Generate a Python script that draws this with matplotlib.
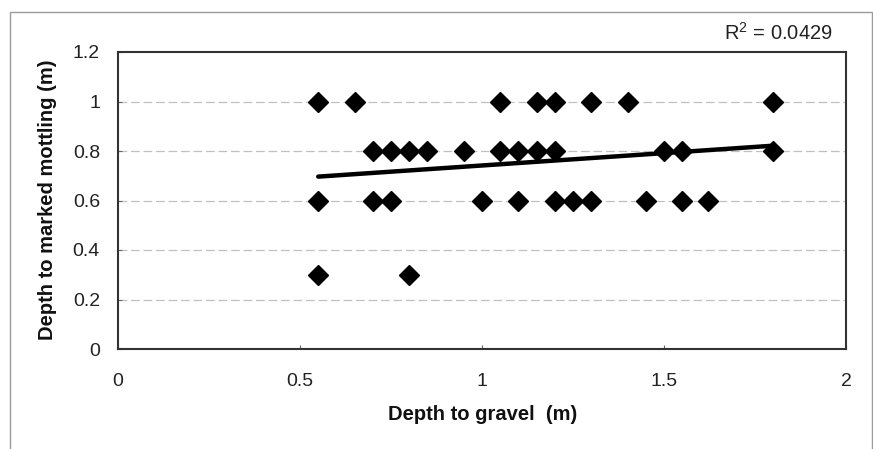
import numpy as np
import matplotlib
matplotlib.use("Agg")
import matplotlib.pyplot as plt
from matplotlib.patches import Rectangle

matplotlib.rc('font', family='Liberation Sans')

# depth to gravel (m) against depth to marked mottling (m), grouped by mottling depth
gravel_10 = [0.55, 0.65, 1.05, 1.15, 1.2, 1.3, 1.4, 1.8]
gravel_08 = [0.7, 0.75, 0.8, 0.85, 0.95, 1.05, 1.1, 1.15, 1.2, 1.5, 1.55, 1.8]
gravel_06 = [0.55, 0.7, 0.75, 1.0, 1.1, 1.2, 1.25, 1.3, 1.45, 1.55, 1.62]
gravel_03 = [0.55, 0.8]
mottling_levels = [1.0, 0.8, 0.6, 0.3]
r_squared = 0.0429

xticks = [0, 0.5, 1, 1.5, 2]
xtick_labels = ['0', '0.5', '1', '1.5', '2']
yticks = [0, 0.2, 0.4, 0.6, 0.8, 1.0, 1.2]
ytick_labels = ['0', '0.2', '0.4', '0.6', '0.8', '1', '1.2']

groups = [gravel_10, gravel_08, gravel_06, gravel_03]
x = np.concatenate([np.array(g, dtype=float) for g in groups])
y = np.concatenate([np.full(len(g), lvl) for g, lvl in zip(groups, mottling_levels)])

W, H = 873, 449
fig = plt.figure(figsize=(W / 100, H / 100), dpi=100)
fig.patch.set_facecolor('white')

# chart frame
fig.patches.append(Rectangle((10 / W, -0.1), 861.5 / W, 1.1 - 12.5 / H,
                             transform=fig.transFigure, fill=False,
                             edgecolor='#9a9a9a', lw=1.0))

ax = fig.add_axes([118 / W, 1 - 349 / H, (846 - 118) / W, (349 - 52) / H])
ax.set_xlim(0, 2)
ax.set_ylim(0, 1.2)

for yy in yticks[1:-1]:
    ax.axhline(yy, color='#c0c0c0', lw=0.9, ls=(0, (7, 3)), zorder=1)

ax.plot(x, y, ls='none', marker='D', ms=10.5, color='black', zorder=3)

# linear trend over the data range
slope, intercept = np.polyfit(x, y, 1)
xs = np.array([x.min(), x.max()])
ax.plot(xs, slope * xs + intercept, color='black', lw=3.2,
        solid_capstyle='round', zorder=4)

for s in ax.spines.values():
    s.set_color('#333333')
    s.set_linewidth(1.5)

ax.set_xticks(xticks)
ax.set_xticklabels(xtick_labels)
ax.set_yticks(yticks)
ax.set_yticklabels(ytick_labels)
ax.tick_params(axis='both', direction='in', length=3, color='#666666',
               labelsize=14, labelcolor='#222222')
ax.tick_params(axis='x', pad=17)
ax.tick_params(axis='y', pad=13)

fig.text(483 / W, 1 - 415 / H, 'Depth to gravel  (m)', ha='center', va='center',
         fontsize=14.5, fontweight='bold', color='#111111')
fig.text(47.5 / W, 1 - 200 / H, 'Depth to marked mottling (m)', ha='center',
         va='center', rotation=90, fontsize=14.5, fontweight='bold', color='#111111')
fig.text(833 / W, 1 - 33 / H, 'R$^{\\mathregular{2}}$ = %.4f' % r_squared,
         ha='right', va='center', fontsize=14.5, color='#222222')

fig.savefig('out.png', dpi=100)
